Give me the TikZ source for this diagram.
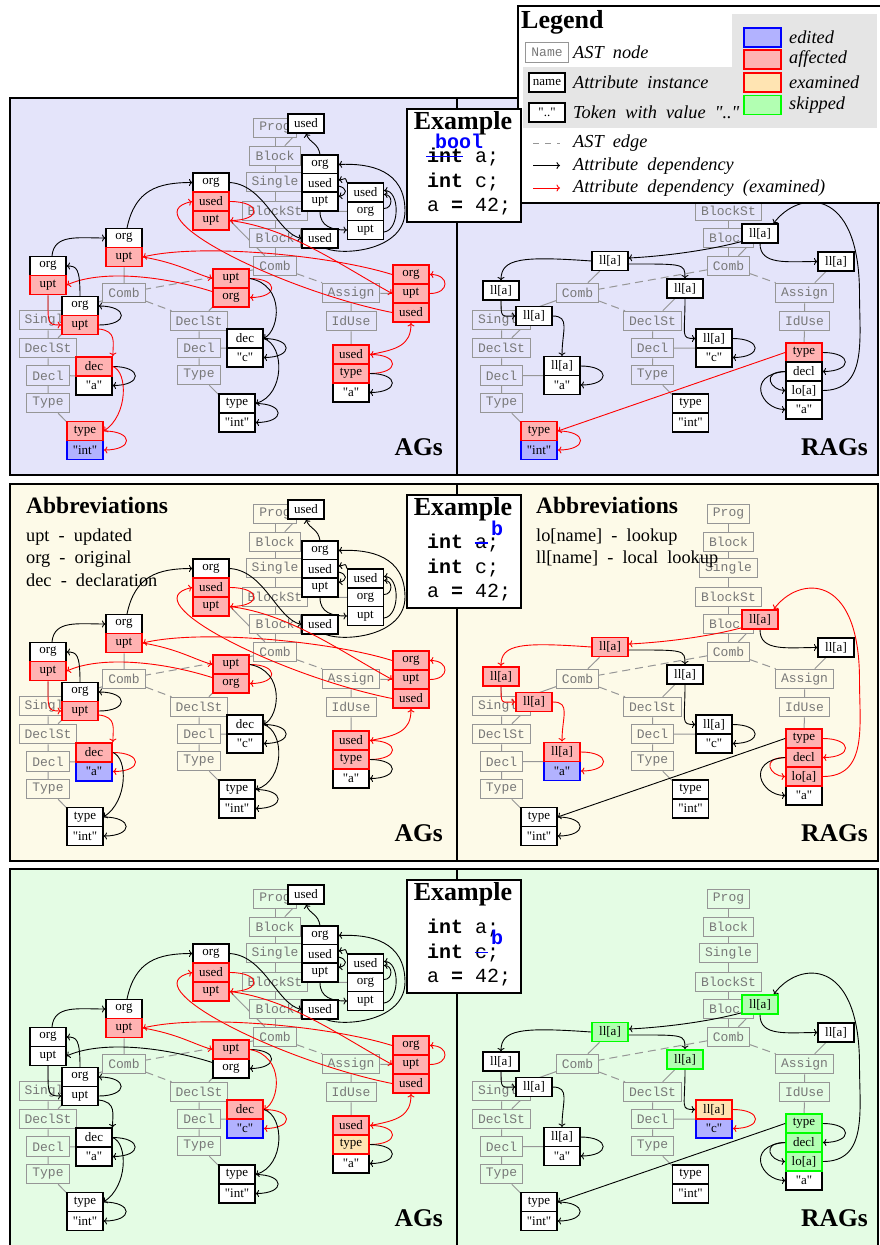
\documentclass[tikz,border=0pt]{standalone}
\usepackage{fontspec}
\setmainfont{Liberation Serif}[Ligatures=TeXOff]
\setmonofont{Liberation Mono}
\usetikzlibrary{arrows.meta,calc}
\definecolor{bgA}{RGB}{228,228,250}
\definecolor{bgB}{RGB}{253,250,232}
\definecolor{bgC}{RGB}{228,252,228}
\definecolor{affC}{RGB}{255,178,178}
\definecolor{ediC}{RGB}{178,178,255}
\definecolor{exaC}{RGB}{255,228,178}
\definecolor{skiC}{RGB}{178,255,178}
\definecolor{astG}{RGB}{150,150,150}
\definecolor{astT}{RGB}{120,120,120}
\definecolor{legG}{RGB}{229,229,229}
\newcommand\wsp{\hspace{0.5em}}
\newif\iftopnodes \topnodestrue
\pgfdeclarelayer{panelbg}
\pgfdeclarelayer{lines}
\pgfsetlayers{panelbg,lines,main}
\tikzset{
 astbg/.style={fill=white},
 ast/.style={draw=astG, line width=1pt, text=astT, font=\ttfamily\fontsize{13}{13}\selectfont, inner xsep=5.5pt, inner ysep=0pt, minimum height=19.5pt, astbg},
 attr/.style={draw=black, line width=1.1pt, fill=white, font=\fontsize{13}{13}\selectfont, minimum width=36pt, minimum height=19pt, inner sep=0pt},
 aff/.style={fill=affC, draw=red, line width=1.8pt},
 edi/.style={fill=ediC, draw=blue, line width=1.8pt},
 exa/.style={fill=exaC, draw=red, line width=1.8pt},
 ski/.style={fill=skiC, draw=green, line width=1.8pt},
 dep/.style={draw=black, line width=0.9pt, -{To[length=3.5pt,width=7pt]}},
 redd/.style={draw=red},
 astline/.style={draw=astG, line width=1pt},
 astdash/.style={draw=astG, line width=1pt, dash pattern=on 8pt off 5pt},
 legtext/.style={anchor=base west, inner sep=0pt, font=\itshape\fontsize{18.3}{20}\selectfont},
 abbtext/.style={anchor=base west, inner sep=0pt, font=\fontsize{18.3}{20}\selectfont},
 abbtitle/.style={anchor=base west, inner sep=0pt, font=\bfseries\fontsize{23.5}{24}\selectfont},
 lbl/.style={anchor=base east, inner sep=0pt, font=\bfseries\fontsize{25.5}{26}\selectfont},
 exframe/.style={draw=black, line width=2pt, fill=white, minimum width=114pt, minimum height=113pt, inner sep=0pt},
 extitle/.style={anchor=base, inner sep=0pt, font=\bfseries\fontsize{26}{26}\selectfont},
 code/.style={anchor=base west, inner sep=0pt, font=\ttfamily\fontsize{20}{20}\selectfont},
 strike/.style={draw=blue, line width=1.5pt},
 agcommon/.style={st/uptCL/.style=aff, st/usedCT/.style=aff, st/uptCT/.style=aff, st/uptDM/.style=aff,
   st/orgAS/.style=aff, st/uptAS/.style=aff, st/usedAS/.style=aff, st/usedIU/.style=aff,
   ed/uCTuAS/.style=redd, ed/usASusCT/.style=redd, ed/oASuCL/.style=redd, ed/uASoAS/.style=redd,
   ed/usCTuCT/.style=redd, ed/usIUusAS/.style=redd, ed/tIUusIU/.style=redd, ed/uCLuDM/.style=redd},
}
\newcommand\panelbox[1]{%
 \begin{pgfonlayer}{panelbg}
  \fill[#1] (10,97.5) rectangle (878,475);
  \draw[line width=2pt] (10,97.5) rectangle (878,475) (457,97.5) -- (457,475);
 \end{pgfonlayer}}
\newcommand\astnodes[1]{%
 \iftopnodes
 \node[ast] (#1P) at (275,128) {Prog};
 \node[ast] (#1B1) at (275,156) {Block};
 \node[ast] (#1S1) at (275,182) {Single};
 \fi
 \node[ast] (#1BS) at (275,211) {BlockSt};
 \node[ast] (#1B2) at (275,238) {Block};
 \node[ast] (#1CT) at (275,266) {Comb};
 \node[ast] (#1CL) at (124,293) {Comb};
 \node[ast] (#1AS) at (351,293) {Assign};
 \node[ast] (#1IU) at (351,321) {IdUse};
 \node[ast] (#1SL) at (48,320) {Single};
 \node[ast] (#1DL) at (48,348) {DeclSt};
 \node[ast] (#1DcL) at (48,375.5) {Decl};
 \node[ast] (#1TL) at (48,403) {Type};
 \node[ast] (#1DM) at (199,321) {DeclSt};
 \node[ast] (#1DcM) at (199,348) {Decl};
 \node[ast] (#1TM) at (199,375) {Type};
 \begin{pgfonlayer}{lines}
 \iftopnodes
 \draw[astline] (#1P)--(#1B1) (#1B1)--(#1S1) (#1S1)--(#1BS);
 \fi
 \draw[astline] (#1BS)--(#1B2) (#1B2)--(#1CT);
 \draw[astdash] (#1CT)--(#1CL) (#1CT)--(#1AS) (#1CL)--(#1DM);
 \draw[astline] (#1CL)--(#1SL) (#1AS)--(#1IU) (#1SL)--(#1DL) (#1DL)--(#1DcL) (#1DcL)--(#1TL) (#1DM)--(#1DcM) (#1DcM)--(#1TM);
 \end{pgfonlayer}}
\newcommand\agpanel[1]{%
 \astnodes{#1}%
 \node[attr,st/usedP/.try] (#1usedP) at (306,123.5) {used};
 \node[attr,st/orgS/.try] (#1orgS) at (320,164.5) {org};
 \node[attr,st/usedS/.try] (#1usedS) at (320,183) {used};
 \node[attr,st/uptS/.try] (#1uptS) at (320,201.5) {upt};
 \node[attr,st/usedBS/.try] (#1usedBS) at (365.5,192.5) {used};
 \node[attr,st/orgBS/.try] (#1orgBS) at (365.5,211.5) {org};
 \node[attr,st/uptBS/.try] (#1uptBS) at (365.5,230) {upt};
 \node[attr,st/usedB2/.try] (#1usedB2) at (320,238.5) {used};
 \node[attr,st/orgCT/.try] (#1orgCT) at (211,182.5) {org};
 \node[attr,st/usedCT/.try] (#1usedCT) at (211,201.5) {used};
 \node[attr,st/uptCT/.try] (#1uptCT) at (211,220.5) {upt};
 \node[attr,st/orgCL/.try] (#1orgCL) at (124,238) {org};
 \node[attr,st/uptCL/.try] (#1uptCL) at (124,257) {upt};
 \node[attr,st/orgSL/.try] (#1orgSL) at (48,266) {org};
 \node[attr,st/uptSL/.try] (#1uptSL) at (48,285) {upt};
 \node[attr,st/orgDL/.try] (#1orgDL) at (80,306) {org};
 \node[attr,st/uptDL/.try] (#1uptDL) at (80,325) {upt};
 \node[attr,st/aL/.try] (#1aL) at (94,385.5) {"a"};
 \node[attr,st/decL/.try] (#1decL) at (94,366.5) {dec};
 \node[attr,st/intL/.try] (#1intL) at (85,450) {"int"};
 \node[attr,st/typeL/.try] (#1typeL) at (85,431) {type};
 \node[attr,st/orgDM/.try] (#1orgDM) at (231,297.5) {org};
 \node[attr,st/uptDM/.try] (#1uptDM) at (231,278.5) {upt};
 \node[attr,st/cM/.try] (#1cM) at (245,357.5) {"c"};
 \node[attr,st/decM/.try] (#1decM) at (245,338.5) {dec};
 \node[attr,st/typeM/.try] (#1typeM) at (237,403.5) {type};
 \node[attr,st/intM/.try] (#1intM) at (237,422.5) {"int"};
 \node[attr,st/orgAS/.try] (#1orgAS) at (411,274.5) {org};
 \node[attr,st/uptAS/.try] (#1uptAS) at (411,293.5) {upt};
 \node[attr,st/usedAS/.try] (#1usedAS) at (411,312.5) {used};
 \node[attr,st/aIU/.try] (#1aIU) at (351,392.5) {"a"};
 \node[attr,st/usedIU/.try] (#1usedIU) at (351,354.5) {used};
 \node[attr,st/typeIU/.try] (#1typeIU) at (351,373.5) {type};
 \begin{pgfonlayer}{lines}
 \draw[astline] (#1B1)--(#1usedP) (#1S1)--(#1usedS) (#1BS)--(#1orgBS) (#1CT)--(#1usedCT) (#1CL)--(#1uptCL) (#1SL)--(#1uptSL)
  (#1DL)--($(#1orgDL)!.5!(#1uptDL)$) (#1DcL)--($(#1decL)!.5!(#1aL)$) (#1TL)--($(#1typeL)!.5!(#1intL)$)
  (#1DM)--($(#1uptDM)!.5!(#1orgDM)$) (#1DcM)--($(#1decM)!.5!(#1cM)$) (#1TM)--($(#1typeM)!.5!(#1intM)$)
  (#1AS)--(#1uptAS) (#1IU)--(#1typeIU);
 \end{pgfonlayer}
 % top cluster
 \draw[dep] (#1orgS.north) .. controls +(-2,-12) and +(4,10) .. (#1usedP.south);
 \draw[dep] ($(#1usedB2.south)+(6,0)$) .. controls (345,256) and (405,250) .. (405,211) .. controls (405,170) and (370,163) .. (#1orgS.east);
 \draw[dep] ($(#1orgBS.east)+(0,-3)$) .. controls +(9,0) and +(9,0) .. ($(#1usedBS.east)+(0,2)$);
 \draw[dep] ($(#1uptBS.east)+(0,2)$) .. controls +(16,-2) and +(16,0) .. ($(#1usedBS.east)+(0,-2)$);
 \draw[dep] (#1usedBS.north west) .. controls +(-2,-6) and +(8,-1) .. ($(#1usedS.east)+(0,-3)$);
 \draw[dep] ($(#1usedS.east)+(0,3)$) .. controls +(9,2) and +(9,-2) .. ($(#1uptS.east)+(0,-5)$);
 \draw[dep] (#1uptS.south) .. controls +(0,15) and +(-15,0) .. (#1uptBS.west);
 % main edges
 \draw[dep,ed/oSLoCL/.try] ($(#1orgSL.north)+(4,0)$) .. controls +(2,-22) and +(-28,0) .. (#1orgCL.west);
 \draw[dep,ed/oCLoCT/.try] ($(#1orgCL.north)+(3,0)$) .. controls +(8,-38) and +(-35,0) .. (#1orgCT.west);
 \draw[dep,ed/oCTuB2/.try] (#1orgCT.east) .. controls +(35,2) and +(-25,-6) .. (#1usedB2.west);
 \draw[dep,ed/uCTuAS/.try] (#1uptCT.east) .. controls (290,228) and (340,265) .. (#1uptAS.west);
 \draw[dep,ed/usASusCT/.try] (#1usedAS.west) .. controls (280,290) and (130,215) .. (#1usedCT.west);
 \draw[dep,ed/oASuCL/.try] (#1orgAS.west) .. controls (330,255) and (200,243) .. (#1uptCL.east);
 \draw[dep,ed/uASoAS/.try] (#1uptAS.east) .. controls +(20,0) and +(20,0) .. (#1orgAS.east);
 \draw[dep,ed/usCTuCT/.try] (#1usedCT.east) .. controls +(32,0) and +(32,0) .. (#1uptCT.east);
 \draw[dep,ed/usIUusAS/.try] (#1usedIU.east) .. controls +(28,-5) and +(0,22) .. (#1usedAS.south);
 \draw[dep,ed/tIUusIU/.try] (#1typeIU.east) .. controls +(30,0) and +(30,0) .. (#1usedIU.east);
 \draw[dep,ed/tIUaIU/.try] (#1typeIU.east) .. controls +(30,0) and +(30,0) .. (#1aIU.east);
 \draw[dep,ed/uCLuDM/.try] (#1uptCL.east) .. controls +(35,6) and +(-20,-6) .. (#1uptDM.west);
 \draw[dep,ed/uDMoDM/.try] (#1uptDM.east) .. controls +(29,0) and +(29,0) .. (#1orgDM.east);
 \draw[dep,ed/uDMdM/.try] (#1uptDM.east) .. controls (285,285) and (280,330) .. (#1decM.east);
 \draw[dep,ed/dMcM/.try] (#1decM.east) .. controls +(30,0) and +(30,0) .. (#1cM.east);
 \draw[dep,ed/dMtM/.try] (#1decM.east) .. controls (285,345) and (285,395) .. (#1typeM.east);
 \draw[dep,ed/tMiM/.try] (#1typeM.east) .. controls +(30,0) and +(30,0) .. (#1intM.east);
 \draw[dep,ed/oDMuSL/.try] ($(#1orgDM.west)+(0,-6)$) .. controls (160,275) and (100,270) .. (#1uptSL.east);
 \draw[dep,ed/uSLuDL/.try] (#1uptSL.south) .. controls +(0,28) and +(-14,0) .. (#1uptDL.west);
 \draw[dep,ed/uDLoDL/.try] (#1uptDL.east) .. controls +(30,0) and +(30,0) .. (#1orgDL.east);
 \draw[dep,ed/oDLoSL/.try] (#1orgDL.north) .. controls +(0,-28) and +(10,0) .. (#1orgSL.east);
 \draw[dep,ed/uDLdL/.try] ($(#1uptDL.east)+(0,4)$) .. controls +(18,2) and +(0,-14) .. (#1decL.north east);
 \draw[dep,ed/dLaL/.try] (#1decL.east) .. controls +(30,0) and +(30,0) .. (#1aL.east);
 \draw[dep,ed/dLtL/.try] (#1decL.east) .. controls (128,372) and (128,415) .. (#1typeL.east);
 \draw[dep,ed/tLiL/.try] (#1typeL.east) .. controls +(30,0) and +(30,0) .. (#1intL.east);
}
\newcommand\ragpanel[1]{%
 \astnodes{#1}%
 \node[attr,st/llT/.try] (#1llT) at (306.5,233.5) {ll[a]};
 \node[attr,st/llCL/.try] (#1llCL) at (156.5,261) {ll[a]};
 \node[attr,st/llAS/.try] (#1llAS) at (382.5,261.5) {ll[a]};
 \node[attr,st/llSL/.try] (#1llSL) at (47.5,290.5) {ll[a]};
 \node[attr,st/llDL/.try] (#1llDL) at (80.5,316) {ll[a]};
 \node[attr,st/aR/.try] (#1aR) at (108.5,385) {"a"};
 \node[attr,st/llDc/.try] (#1llDc) at (108.5,366) {ll[a]};
 \node[attr,st/intR/.try] (#1intR) at (85.5,450) {"int"};
 \node[attr,st/typeR/.try] (#1typeR) at (85.5,431) {type};
 \node[attr,st/llDM/.try] (#1llDM) at (231.5,288.5) {ll[a]};
 \node[attr,st/cR/.try] (#1cR) at (260.5,357.5) {"c"};
 \node[attr,st/llc/.try] (#1llc) at (260.5,338.5) {ll[a]};
 \node[attr,st/typeRM/.try] (#1typeRM) at (237,403.5) {type};
 \node[attr,st/intRM/.try] (#1intRM) at (237,422.5) {"int"};
 \node[attr,st/aIU/.try] (#1aIU) at (350.5,409.5) {"a"};
 \node[attr,st/typeIU/.try] (#1typeIU) at (350.5,352.5) {type};
 \node[attr,st/declIU/.try] (#1declIU) at (350.5,371.5) {decl};
 \node[attr,st/loIU/.try] (#1loIU) at (350.5,390.5) {lo[a]};
 \begin{pgfonlayer}{lines}
 \draw[astline] (#1CT)--(#1llT) (#1CL)--(#1llCL) (#1AS)--(#1llAS) (#1SL)--(#1llSL) (#1DL)--(#1llDL)
  (#1DcL)--($(#1llDc)!.5!(#1aR)$) (#1TL)--($(#1typeR)!.5!(#1intR)$) (#1DM)--(#1llDM)
  (#1DcM)--($(#1llc)!.5!(#1cR)$) (#1TM)--($(#1typeRM)!.5!(#1intRM)$) (#1IU)--(#1typeIU);
 \end{pgfonlayer}
 \draw[dep,ed/loT/.try] (#1loIU.east) .. controls +(45,0) and (406,340) .. (406,294) .. controls (406,185) and (345,190) .. ($(#1llT.north east)+(-5,0)$);
 \draw[dep,ed/TCL/.try] ($(#1llT.south west)+(0,-2)$) .. controls +(-30,8) and +(40,-2) .. ($(#1llCL.east)+(0,-3)$);
 \draw[dep,ed/TAS/.try] (#1llT.south) .. controls +(0,22) and +(-30,0) .. (#1llAS.west);
 \draw[dep,ed/CLSL/.try] (#1llCL.west) .. controls +(-70,-5) and +(0,-22) .. (#1llSL.north);
 \draw[dep,ed/CLDM/.try] ($(#1llCL.east)+(0,3)$) .. controls +(55,0) and +(0,-15) .. (#1llDM.north);
 \draw[dep,ed/SLDL/.try] (#1llSL.south) .. controls +(0,18) and +(-14,0) .. (#1llDL.west);
 \draw[dep,ed/DLDc/.try] (#1llDL.east) .. controls +(18,0) and +(0,-25) .. (#1llDc.north);
 \draw[dep,ed/Dca/.try] (#1llDc.east) .. controls +(30,0) and +(30,0) .. (#1aR.east);
 \draw[dep,ed/DMc/.try] (#1llDM.south) .. controls +(0,38) and +(-15,0) .. (#1llc.west);
 \draw[dep,ed/cc/.try] (#1llc.east) .. controls +(30,0) and +(30,0) .. (#1cR.east);
 \draw[dep,ed/tIUtR/.try] (#1typeIU.west) -- (#1typeR.east);
 \draw[dep,ed/tRiR/.try] (#1typeR.east) .. controls +(30,0) and +(30,0) .. (#1intR.east);
 \draw[dep,ed/tdIU/.try] (#1typeIU.east) .. controls +(30,0) and +(30,0) .. (#1declIU.east);
 \draw[dep,ed/dlIU/.try] (#1declIU.west) .. controls +(-25,0) and +(-15,0) .. (#1loIU.west);
 \draw[dep,ed/daIU/.try] (#1declIU.west) .. controls +(-40,3) and +(-25,0) .. (#1aIU.west);
}
\begin{document}
\begin{tikzpicture}[x=1pt,y=-1pt]
\useasboundingbox (0,0) rectangle (879,1245);
\begin{pgfonlayer}{panelbg}
\fill[white] (0,0) rectangle (879,1245);
\end{pgfonlayer}
% ===== Row 1 =====
\panelbox{bgA}
\begin{scope}[astbg/.style={fill=bgA}, agcommon, st/uptSL/.style=aff, st/orgDM/.style=aff, st/uptDL/.style=aff,
  st/decL/.style=aff, st/typeL/.style=aff, st/intL/.style=edi, st/typeIU/.style=aff,
  ed/uDMoDM/.style=redd, ed/oDMuSL/.style=redd, ed/uSLuDL/.style=redd, ed/uDLdL/.style=redd,
  ed/dLtL/.style=redd, ed/tLiL/.style=redd]
 \agpanel{a1}
\end{scope}
\begin{scope}[xshift=453.5pt, astbg/.style={fill=bgA}, st/typeIU/.style=aff, st/typeR/.style=aff,
  st/intR/.style=edi, ed/tIUtR/.style=redd, ed/tRiR/.style=redd]
 \topnodesfalse
 \ragpanel{g1}
\end{scope}
\node[lbl] (lblA1) at (443,455) {AGs};
\node[lbl] (lblR1) at (868,455) {RAGs};
% ===== Row 2 =====
\begin{scope}[yshift=-386pt]
\panelbox{bgB}
\begin{scope}[astbg/.style={fill=bgB}, agcommon, st/uptSL/.style=aff, st/orgDM/.style=aff, st/uptDL/.style=aff,
  st/decL/.style=aff, st/aL/.style=edi, st/typeIU/.style=aff,
  ed/uDMoDM/.style=redd, ed/oDMuSL/.style=redd, ed/uSLuDL/.style=redd, ed/uDLdL/.style=redd,
  ed/dLaL/.style=redd]
 \agpanel{a2}
\end{scope}
\begin{scope}[xshift=453.5pt, astbg/.style={fill=bgB}, st/llT/.style=aff, st/llCL/.style=aff, st/llSL/.style=aff,
  st/llDL/.style=aff, st/llDc/.style=aff, st/aR/.style=edi, st/typeIU/.style=aff, st/declIU/.style=aff,
  st/loIU/.style=aff, ed/loT/.style=redd, ed/TCL/.style=redd, ed/CLSL/.style=redd, ed/SLDL/.style=redd,
  ed/DLDc/.style=redd, ed/Dca/.style=redd, ed/tdIU/.style=redd, ed/dlIU/.style=redd]
 \ragpanel{g2}
\end{scope}
\node[abbtitle] (abL) at (26,127) {Abbreviations};
\node[abbtext] (abL1) at (26,155) {upt\wsp-\wsp updated};
\node[abbtext] (abL2) at (26,177.5) {org\wsp-\wsp original};
\node[abbtext] (abL3) at (26,200.5) {dec\wsp-\wsp declaration};
\node[abbtitle] (abR) at (536,127) {Abbreviations};
\node[abbtext] (abR1) at (536,155.5) {lo[name]\wsp-\wsp lookup};
\node[abbtext] (abR2) at (536,177.5) {ll[name]\wsp-\wsp local\wsp lookup};
\node[lbl] (lblA2) at (443,455) {AGs};
\node[lbl] (lblR2) at (868,455) {RAGs};
\end{scope}
% ===== Row 3 =====
\begin{scope}[yshift=-771pt]
\panelbox{bgC}
\begin{scope}[astbg/.style={fill=bgC}, agcommon, st/decM/.style=aff, st/cM/.style=edi, st/typeIU/.style=exa,
  ed/uDMdM/.style=redd, ed/dMcM/.style=redd]
 \agpanel{a3}
\end{scope}
\begin{scope}[xshift=453.5pt, astbg/.style={fill=bgC}, st/llT/.style=ski, st/llCL/.style=ski, st/llDM/.style=ski,
  st/llc/.style=exa, st/cR/.style=edi, st/typeIU/.style=ski, st/declIU/.style=ski, st/loIU/.style=ski,
  ed/cc/.style=redd]
 \ragpanel{g3}
\end{scope}
\node[lbl] (lblA3) at (443,455) {AGs};
\node[lbl] (lblR3) at (868,455) {RAGs};
\end{scope}
% ===== Legend =====
\draw[line width=2pt, fill=white] (518,6) rectangle (882,203);
\fill[legG] (732,14) rectangle (877,128);
\fill[legG] (523,67) rectangle (732,128);
\node[anchor=base west, inner sep=0pt, font=\bfseries\fontsize{26}{26}\selectfont] (legT) at (521,28) {Legend};
\node[ast, fill=white] (legN) at (547,52.5) {Name};
\node[legtext] (legNt) at (573,58) {AST\wsp node};
\node[attr] (legA) at (547,82.5) {name};
\node[legtext] (legAt) at (573,88) {Attribute\wsp instance};
\node[attr] (legK) at (547,112.5) {".."};
\node[legtext] (legKt) at (573,118.5) {Token\wsp with\wsp value\wsp ".."};
\node[attr, edi, minimum width=37pt] (sw1) at (762.5,37.5) {};
\node[attr, aff, minimum width=37pt] (sw2) at (762.5,59.5) {};
\node[attr, exa, minimum width=37pt] (sw3) at (762.5,82.5) {};
\node[attr, ski, minimum width=37pt] (sw4) at (762.5,105) {};
\node[legtext] (sw1t) at (789,43.5) {edited};
\node[legtext] (sw2t) at (789,63.5) {affected};
\node[legtext] (sw3t) at (789,88) {examined};
\node[legtext] (sw4t) at (789,109) {skipped};
\coordinate (le1a) at (533,143); \coordinate (le1b) at (560,143);
\coordinate (le2a) at (533,165.5); \coordinate (le2b) at (560,165.5);
\coordinate (le3a) at (533,188); \coordinate (le3b) at (560,188);
\draw[astline, dash pattern=on 6pt off 6pt] (le1a) -- (le1b);
\draw[dep] (le2a) -- (le2b);
\draw[dep, redd] (le3a) -- (le3b);
\node[legtext] (le1t) at (573,147) {AST\wsp edge};
\node[legtext] (le2t) at (573,170) {Attribute\wsp dependency};
\node[legtext] (le3t) at (573,192.5) {Attribute\wsp dependency\wsp (examined)};
% ===== Example boxes =====
\node[exframe] (ex1f) at (464,165) {};
\node[extitle] (ex1t) at (463,129) {Example};
\node[code] (ex1a) at (427,162.5) {\textbf{int} a;};
\node[code] (ex1b) at (427,187) {\textbf{int} c;};
\node[code] (ex1c) at (427,211) {a \textbf{=} 42;};
\draw[strike] (426,156.5) -- (463,156.5);
\node[code, text=blue] (ex1n) at (435,148) {\textbf{bool}};
\begin{scope}[yshift=-386pt]
\node[exframe] (ex2f) at (464,165) {};
\node[extitle] (ex2t) at (463,129) {Example};
\node[code] (ex2a) at (427,162.5) {\textbf{int} a;};
\node[code] (ex2b) at (427,187) {\textbf{int} c;};
\node[code] (ex2c) at (427,211) {a \textbf{=} 42;};
\draw[strike] (474.5,157) -- (487.5,157);
\node[code, text=blue] (ex2n) at (491,149) {\textbf{b}};
\end{scope}
\begin{scope}[yshift=-771pt]
\node[exframe] (ex3f) at (464,165) {};
\node[extitle] (ex3t) at (463,129) {Example};
\node[code] (ex3a) at (427,162.5) {\textbf{int} a;};
\node[code] (ex3b) at (427,187) {\textbf{int} c;};
\node[code] (ex3c) at (427,211) {a \textbf{=} 42;};
\draw[strike] (474.5,181.5) -- (487.5,181.5);
\node[code, text=blue] (ex3n) at (491,173) {\textbf{b}};
\end{scope}
\end{tikzpicture}
\end{document}
